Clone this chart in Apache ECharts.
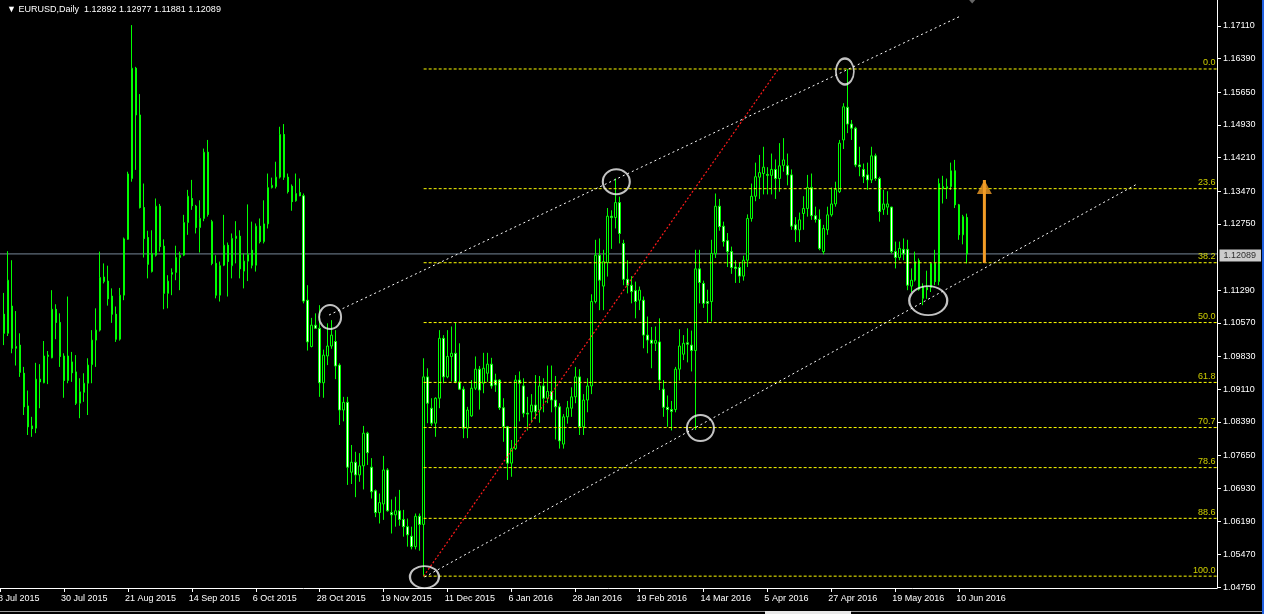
<!DOCTYPE html>
<html>
<head>
<meta charset="utf-8">
<script src="https://cdn.jsdelivr.net/npm/echarts@6/dist/echarts.min.js"></script>
<style>
html,body{margin:0;padding:0;background:#000;}
#chart{width:1264px;height:614px;}
</style>
</head>
<body>
<div id="chart"></div>
<script>
// ---- Daily EURUSD candles (index 0 = 9 Jul 2015 ... 241 = 14 Jun 2016) ----
const opens = [1.1076,1.1034,1.1094,1.1001,1.1008,1.0946,1.0874,1.0830,1.0825,1.0933,1.0925,1.0983,1.0980,1.1087,1.1058,1.0984,1.0930,1.0971,1.0949,1.0880,1.0904,1.0924,1.0965,1.1019,1.1041,1.1148,1.1149,1.1116,1.1076,1.1021,1.1118,1.1241,1.1375,1.1618,1.1515,1.1311,1.1245,1.1170,1.1206,1.1314,1.1226,1.1122,1.1164,1.1168,1.1201,1.1206,1.1278,1.1331,1.1314,1.1267,1.1287,1.1433,1.1280,1.1188,1.1118,1.1184,1.1228,1.1183,1.1243,1.1248,1.1171,1.1193,1.1217,1.1184,1.1270,1.1236,1.1275,1.1355,1.1357,1.1378,1.1472,1.1378,1.1358,1.1326,1.1344,1.1337,1.1107,1.1005,1.1052,1.1045,1.0925,1.0984,1.1006,1.1016,1.0964,1.0865,1.0882,1.0728,1.0750,1.0722,1.0742,1.0814,1.0739,1.0687,1.0639,1.0658,1.0733,1.0639,1.0634,1.0643,1.0624,1.0608,1.0587,1.0564,1.0631,1.0613,1.0938,1.0869,1.0836,1.0891,1.1023,1.0938,1.0983,1.0990,1.0927,1.0911,1.0825,1.0852,1.0913,1.0955,1.0924,1.0946,1.0966,1.0931,1.0931,1.0870,1.0828,1.0748,1.0780,1.0931,1.0918,1.0858,1.0861,1.0876,1.0865,1.0918,1.0891,1.0906,1.0887,1.0872,1.0790,1.0850,1.0869,1.0894,1.0938,1.0828,1.0887,1.0918,1.1104,1.1206,1.1138,1.1190,1.1292,1.1289,1.1322,1.1232,1.1153,1.1140,1.1128,1.1107,1.1107,1.1030,1.1019,1.1012,1.1015,1.0911,1.0871,1.0866,1.0866,1.0955,1.0988,1.1013,1.1008,1.0996,1.1176,1.1144,1.1104,1.1104,1.1210,1.1314,1.1270,1.1238,1.1214,1.1180,1.1179,1.1160,1.1195,1.1287,1.1336,1.1378,1.1386,1.1384,1.1382,1.1395,1.1375,1.1404,1.1403,1.1383,1.1273,1.1262,1.1298,1.1309,1.1355,1.1293,1.1285,1.1214,1.1262,1.1295,1.1319,1.1346,1.1460,1.1532,1.1495,1.1486,1.1405,1.1395,1.1383,1.1372,1.1425,1.1375,1.1307,1.1312,1.1312,1.1214,1.1201,1.1219,1.1219,1.1138,1.1151,1.1194,1.1111,1.1135,1.1135,1.1188,1.1148,1.1357,1.1353,1.1357,1.1392,1.1317,1.1251,1.12892];
const highs = [1.1123,1.1215,1.1195,1.1083,1.1034,1.0960,1.0908,1.0850,1.0969,1.0966,1.1017,1.0995,1.1129,1.1098,1.1078,1.0990,1.1115,1.0993,1.0986,1.0935,1.0946,1.0979,1.1041,1.1089,1.1214,1.1188,1.1183,1.1133,1.1093,1.1134,1.1245,1.1390,1.1713,1.1621,1.1561,1.1364,1.1260,1.1261,1.1331,1.1319,1.1241,1.1162,1.1177,1.1227,1.1214,1.1295,1.1350,1.1372,1.1317,1.1327,1.1441,1.1460,1.1284,1.1206,1.1192,1.1295,1.1234,1.1254,1.1281,1.1261,1.1210,1.1318,1.1280,1.1276,1.1287,1.1327,1.1386,1.1377,1.1412,1.1489,1.1495,1.1386,1.1362,1.1386,1.1375,1.1342,1.1140,1.1068,1.1078,1.1096,1.0998,1.1056,1.1063,1.1041,1.0968,1.0894,1.0894,1.0788,1.0773,1.0770,1.0830,1.0817,1.0759,1.0690,1.0681,1.0764,1.0737,1.0668,1.0674,1.0689,1.0645,1.0626,1.0608,1.0637,1.0637,1.0979,1.0957,1.0891,1.0893,1.1041,1.1030,1.1041,1.1049,1.1057,1.1012,1.0917,1.0872,1.0931,1.0983,1.0962,1.0991,1.0991,1.0980,1.0945,1.0933,1.0891,1.0830,1.0799,1.0942,1.0950,1.0935,1.0894,1.0900,1.0942,1.0940,1.0935,1.0963,1.0963,1.0940,1.0880,1.0856,1.0885,1.0915,1.0960,1.0955,1.0900,1.0935,1.1120,1.1240,1.1243,1.1218,1.1310,1.1305,1.1375,1.1335,1.1240,1.1195,1.1160,1.1148,1.1137,1.1115,1.1071,1.1048,1.1049,1.1067,1.0931,1.0897,1.0885,1.0960,1.1043,1.1030,1.1045,1.1040,1.1218,1.1218,1.1150,1.1130,1.1240,1.1342,1.1330,1.1280,1.1255,1.1225,1.1195,1.1190,1.1205,1.1296,1.1364,1.1410,1.1427,1.1445,1.1400,1.1430,1.1417,1.1453,1.1464,1.1430,1.1395,1.1290,1.1300,1.1336,1.1383,1.1386,1.1313,1.1307,1.1273,1.1313,1.1355,1.1368,1.1460,1.1541,1.1616,1.1504,1.1489,1.1445,1.1408,1.1410,1.1445,1.1430,1.1379,1.1350,1.1347,1.1313,1.1236,1.1236,1.1243,1.1240,1.1177,1.1214,1.1199,1.1144,1.1172,1.1191,1.1218,1.1375,1.1381,1.1375,1.1410,1.1416,1.1319,1.1295,1.12977];
const lows = [1.1008,1.1028,1.0990,1.0963,1.0938,1.0854,1.0810,1.0806,1.0814,1.0869,1.0924,1.0922,1.0979,1.1021,1.0960,1.0892,1.0924,1.0927,1.0876,1.0847,1.0883,1.0854,1.0924,1.0960,1.1038,1.1144,1.1095,1.1057,1.1015,1.1018,1.1107,1.1240,1.1368,1.1394,1.1309,1.1201,1.1155,1.1168,1.1203,1.1214,1.1087,1.1089,1.1118,1.1151,1.1129,1.1204,1.1251,1.1306,1.1254,1.1212,1.1281,1.1291,1.1184,1.1111,1.1104,1.1182,1.1115,1.1155,1.1188,1.1155,1.1133,1.1149,1.1177,1.1170,1.1232,1.1232,1.1265,1.1353,1.1353,1.1375,1.1372,1.1342,1.1304,1.1324,1.1336,1.1100,1.0996,1.1003,1.1045,1.0894,1.0892,1.0964,1.1000,1.0933,1.0832,1.0840,1.0700,1.0702,1.0673,1.0707,1.0690,1.0744,1.0670,1.0629,1.0615,1.0623,1.0641,1.0593,1.0608,1.0610,1.0586,1.0564,1.0558,1.0558,1.0555,1.0499,1.0836,1.0830,1.0806,1.0869,1.0924,1.0935,1.0928,1.0924,1.0909,1.0803,1.0803,1.0850,1.0909,1.0866,1.0902,1.0927,1.0912,1.0905,1.0865,1.0795,1.0711,1.0718,1.0777,1.0840,1.0849,1.0820,1.0837,1.0845,1.0837,1.0860,1.0880,1.0860,1.0800,1.0780,1.0780,1.0835,1.0850,1.0880,1.0810,1.0810,1.0860,1.0900,1.1100,1.1085,1.1085,1.1159,1.1220,1.1265,1.1232,1.1140,1.1122,1.1100,1.1067,1.1085,1.1001,1.0990,1.0957,1.0995,1.0909,1.0850,1.0828,1.0820,1.0860,1.0930,1.0975,1.0970,1.0950,1.0821,1.1100,1.1090,1.1057,1.1060,1.1200,1.1260,1.1225,1.1180,1.1165,1.1145,1.1145,1.1150,1.1180,1.1280,1.1325,1.1330,1.1340,1.1340,1.1340,1.1330,1.1346,1.1390,1.1360,1.1262,1.1235,1.1235,1.1262,1.1291,1.1284,1.1278,1.1217,1.1208,1.1251,1.1291,1.1313,1.1343,1.1440,1.1475,1.1460,1.1400,1.1380,1.1365,1.1350,1.1365,1.1370,1.1280,1.1295,1.1295,1.1210,1.1177,1.1195,1.1195,1.1129,1.1125,1.1148,1.1128,1.1096,1.1110,1.1125,1.1140,1.1140,1.1320,1.1330,1.1350,1.1310,1.1240,1.1230,1.11881];
const closes = [1.1034,1.1151,1.1001,1.1005,1.0948,1.0872,1.0828,1.0824,1.0933,1.0927,1.0984,1.0986,1.1087,1.1058,1.0983,1.0930,1.0984,1.0947,1.0880,1.0905,1.0924,1.0964,1.1019,1.1041,1.1157,1.1158,1.1110,1.1076,1.1021,1.1118,1.1242,1.1385,1.1618,1.1515,1.1311,1.1243,1.1186,1.1210,1.1314,1.1225,1.1122,1.1149,1.1168,1.1201,1.1206,1.1278,1.1336,1.1315,1.1267,1.1287,1.1433,1.1296,1.1188,1.1118,1.1183,1.1228,1.1192,1.1243,1.1248,1.1176,1.1193,1.1208,1.1184,1.1270,1.1236,1.1275,1.1355,1.1360,1.1378,1.1472,1.1378,1.1346,1.1324,1.1342,1.1337,1.1105,1.1015,1.1052,1.1045,1.0925,1.0986,1.1006,1.1030,1.0962,1.0865,1.0882,1.0739,1.0750,1.0722,1.0742,1.0814,1.0771,1.0685,1.0639,1.0661,1.0733,1.0643,1.0634,1.0643,1.0624,1.0608,1.0590,1.0564,1.0631,1.0613,1.0938,1.0880,1.0836,1.0891,1.1023,1.0938,1.0983,1.0990,1.0927,1.0911,1.0825,1.0865,1.0913,1.0955,1.0909,1.0957,1.0966,1.0918,1.0920,1.0870,1.0828,1.0748,1.0780,1.0931,1.0924,1.0858,1.0856,1.0876,1.0861,1.0918,1.0891,1.0906,1.0887,1.0872,1.0797,1.0850,1.0870,1.0894,1.0938,1.0828,1.0887,1.0918,1.1104,1.1206,1.1151,1.1192,1.1292,1.1289,1.1322,1.1254,1.1153,1.1140,1.1126,1.1104,1.1129,1.1030,1.1019,1.1012,1.1018,1.0931,1.0871,1.0866,1.0862,1.0955,1.1006,1.1012,1.1010,1.0996,1.1176,1.1146,1.1100,1.1100,1.1210,1.1314,1.1269,1.1236,1.1214,1.1179,1.1177,1.1160,1.1195,1.1287,1.1336,1.1379,1.1388,1.1400,1.1382,1.1395,1.1375,1.1403,1.1416,1.1383,1.1270,1.1262,1.1284,1.1309,1.1355,1.1293,1.1285,1.1221,1.1265,1.1295,1.1319,1.1351,1.1453,1.1533,1.1495,1.1486,1.1405,1.1401,1.1379,1.1372,1.1425,1.1375,1.1302,1.1319,1.1319,1.1214,1.1201,1.1221,1.1209,1.1140,1.1151,1.1192,1.1131,1.1137,1.1130,1.1188,1.1148,1.1364,1.1353,1.1357,1.1392,1.1317,1.1251,1.1291,1.12089];

// ---- axis labels ----
const dateTickLabels = ['8 Jul 2015','30 Jul 2015','21 Aug 2015','14 Sep 2015','6 Oct 2015','28 Oct 2015','19 Nov 2015','11 Dec 2015','6 Jan 2016','28 Jan 2016','19 Feb 2016','14 Mar 2016','5 Apr 2016','27 Apr 2016','19 May 2016','10 Jun 2016'];
const dateTickEvery = 16;
const priceTickLabels = [1.04750,1.05470,1.06190,1.06930,1.07650,1.08390,1.09110,1.09830,1.10570,1.11290,1.12750,1.13470,1.14210,1.14930,1.15650,1.16390,1.17110];
const slotCount = 305;          // bar slots incl. empty right-hand shift area
const firstBarSlot = 1;         // slot of the first candle
const lastPrice = 1.12089;
const headerText = '\u25BC EURUSD,Daily  1.12892 1.12977 1.11881 1.12089';

// ---- Fibonacci retracement (Dec 2015 low -> May 2016 high) ----
const fibHigh = 1.16163, fibLow = 1.0499;
const fibStartSlot = 106, fibEndTrendSlot = 194.75;
const fibLevels = [0, 23.6, 38.2, 50.0, 61.8, 70.7, 78.6, 88.6, 100.0];

// ---- channel lines, ellipses, arrow ----
const upperChannel = [[82.33, 1.10743], [240, 1.17315]];
const lowerChannel = [[106.25, 1.04971], [284.5, 1.13629]];
const ellipses = [
  [82.6, 1.10699, 22, 24],
  [154.2, 1.13680, 27, 25],
  [106.2, 1.04971, 29, 22],
  [175.25, 1.08253, 27, 26],
  [211.4, 1.16108, 18, 26],
  [232.25, 1.11062, 38, 29]
];
const arrowSlot = 246.3, arrowFrom = 1.11889, arrowTo = 1.13717;
const shiftMarker = [243.25, 1.1765];

const FONT = 'Liberation Sans';
const slots = Array.from({length: slotCount}, (_, i) => String(i));
const candleData = opens.map((o, i) => [i + firstBarSlot, o, closes[i], lows[i], highs[i]]);
const slotMax = slotCount - 0.5;
const dateTickSlots = dateTickLabels.map((_, k) => k * dateTickEvery);
const dateLabelSlots = dateTickSlots.map(s => Math.max(-0.5, s - 0.75));

const fibSeries = fibLevels.map(lv => {
  const p = fibHigh - (fibHigh - fibLow) * lv / 100;
  return {
    type: 'line', xAxisIndex: 1, silent: true, symbol: 'none', z: 4,
    lineStyle: {color: '#ffff00', width: 1, type: [3, 2]},
    data: [[fibStartSlot, p], [slotMax, p]]
  };
});
const fibLabelData = fibLevels.map(lv => ({
  value: [slotMax, fibHigh - (fibHigh - fibLow) * lv / 100],
  label: {formatter: lv.toFixed(1)}
}));

const chart = echarts.init(document.getElementById('chart'), null, {renderer: 'canvas'});
chart.setOption({
  animation: false,
  backgroundColor: '#000',
  textStyle: {fontFamily: FONT},
  title: {
    text: headerText, left: 2, top: 0,
    textStyle: {color: '#fff', fontSize: 9, fontWeight: 'normal', fontFamily: FONT}
  },
  grid: {left: -2, right: 47, top: 0, bottom: 26, containLabel: false, outerBoundsMode: 'none'},
  xAxis: [{
    type: 'category', data: slots, boundaryGap: true, show: false, position: 'bottom'
  }, {
    type: 'value', min: -0.5, max: slotMax, show: true, position: 'bottom',
    axisLine: {show: true, onZero: false, lineStyle: {color: '#fff', width: 1}},
    axisTick: {show: true, length: 4, lineStyle: {color: '#fff'}, customValues: dateTickSlots},
    axisLabel: {
      show: true, color: '#fff', fontSize: 9, fontFamily: FONT, align: 'left', margin: 6,
      hideOverlap: false, customValues: dateLabelSlots,
      formatter: (v) => dateTickLabels[Math.round((v + 0.75) / dateTickEvery)] || ''
    },
    splitLine: {show: false}
  }],
  yAxis: {
    type: 'value', position: 'right', min: 1.04729, max: 1.17683, scale: true,
    axisLine: {show: true, onZero: false, lineStyle: {color: '#fff', width: 1}},
    axisTick: {show: true, length: 4, lineStyle: {color: '#fff'}, customValues: priceTickLabels},
    axisLabel: {
      color: '#fff', fontSize: 9, fontFamily: FONT, margin: 6,
      customValues: priceTickLabels, formatter: (v) => v.toFixed(5)
    },
    splitLine: {show: false}
  },
  series: [
    {
      type: 'line', xAxisIndex: 1, silent: true, symbol: 'none', z: 1,
      lineStyle: {color: '#778899', width: 1},
      data: [[-0.5, lastPrice], [slotMax, lastPrice]]
    },
    {
      type: 'candlestick', xAxisIndex: 0, z: 3, barWidth: 2,
      encode: {x: 0, y: [1, 2, 3, 4]},
      itemStyle: {
        color: '#000000', color0: '#ffffff',
        borderColor: '#00ff00', borderColor0: '#00ff00', borderColorDoji: '#00ff00',
        borderWidth: 1
      },
      data: candleData
    },
    ...fibSeries,
    {
      type: 'scatter', xAxisIndex: 1, silent: true, clip: false, z: 6,
      symbolSize: 1, itemStyle: {color: 'rgba(0,0,0,0)'},
      label: {show: true, color: '#ffff00', fontSize: 9, fontFamily: FONT,
              position: [-1, -1], align: 'right', verticalAlign: 'bottom'},
      data: fibLabelData
    },
    {
      type: 'line', xAxisIndex: 1, silent: true, symbol: 'none', z: 5,
      lineStyle: {color: '#ff1a1a', width: 1.2, type: [2, 2]},
      data: [[fibStartSlot, fibLow], [fibEndTrendSlot, fibHigh]]
    },
    {
      type: 'line', xAxisIndex: 1, silent: true, symbol: 'none', z: 5,
      lineStyle: {color: '#ffffff', width: 1, type: [2, 3]},
      data: upperChannel
    },
    {
      type: 'line', xAxisIndex: 1, silent: true, symbol: 'none', z: 5,
      lineStyle: {color: '#ffffff', width: 1, type: [2, 3]},
      data: lowerChannel
    },
    {
      type: 'scatter', xAxisIndex: 1, silent: true, clip: false, z: 7,
      symbol: 'circle',
      itemStyle: {color: 'rgba(0,0,0,0)', borderColor: '#f2f2f2', borderWidth: 2},
      data: ellipses.map(e => ({value: [e[0], e[1]], symbolSize: [e[2], e[3]]}))
    },
    {
      type: 'line', xAxisIndex: 1, silent: true, symbol: 'none', z: 8,
      lineStyle: {color: '#f39c26', width: 3},
      data: [[arrowSlot, arrowFrom], [arrowSlot, arrowTo]]
    },
    {
      type: 'scatter', xAxisIndex: 1, silent: true, clip: false, z: 9,
      symbol: 'triangle', symbolSize: [15, 14], symbolOffset: [0, 7],
      itemStyle: {color: '#f39c26'},
      data: [[arrowSlot, arrowTo]]
    },
    {
      type: 'scatter', xAxisIndex: 1, silent: true, clip: false, z: 9,
      symbol: 'triangle', symbolRotate: 180, symbolSize: [7, 4],
      itemStyle: {color: '#808080'},
      data: [shiftMarker]
    },
    {
      type: 'scatter', xAxisIndex: 1, silent: true, clip: false, z: 10,
      symbolSize: 1, itemStyle: {color: 'rgba(0,0,0,0)'},
      label: {show: true, formatter: lastPrice.toFixed(5), color: '#000', backgroundColor: '#fff',
              fontSize: 9, fontFamily: FONT, padding: [2, 5, 1, 4],
              position: [3, 2], align: 'left', verticalAlign: 'middle'},
      data: [[slotMax, lastPrice]]
    }
  ],
  graphic: [
    {type: 'rect', left: 1262, top: 0, shape: {width: 2, height: 614}, style: {fill: '#1f5fe0'}, silent: true},
    {type: 'rect', left: 0, top: 611, shape: {width: 1262, height: 1}, style: {fill: '#9a9a9a'}, silent: true},
    {type: 'rect', left: 765, top: 611, shape: {width: 86, height: 3}, style: {fill: '#e8e8e8'}, silent: true}
  ]
});
</script>
</body>
</html>
